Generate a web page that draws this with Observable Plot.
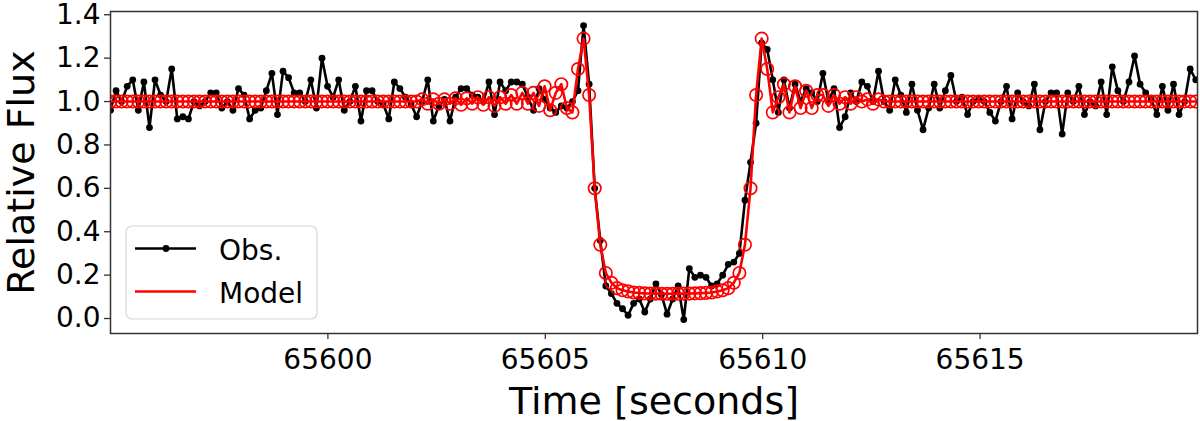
<!DOCTYPE html>
<html>
<head>
<meta charset="utf-8">
<script src="https://cdn.jsdelivr.net/npm/d3@7"></script>
<script src="https://cdn.jsdelivr.net/npm/@observablehq/plot@0.6"></script>
<style>
  html, body { margin: 0; padding: 0; background: #fff; }
  svg { display: block; }
</style>
</head>
<body>
<div id="chart"></div>
<script>
// ---- data ----
const startTime = 65595.0;   // time of first sample [s]
const cadence = 0.128;       // sampling interval [s]

const obsFlux = [
  0.96, 1.05, 1.00, 1.07, 1.10, 0.96, 1.09, 0.88, 1.10, 1.03,
  1.00, 1.15, 0.92, 0.93, 0.92, 1.00, 0.98, 1.00, 1.04, 1.04,
  0.97, 1.00, 0.96, 1.06, 1.03, 0.92, 0.96, 0.97, 1.05, 1.13,
  0.94, 1.14, 1.11, 1.04, 1.04, 1.00, 1.10, 0.97, 1.20, 1.07,
  1.02, 1.10, 0.96, 1.00, 1.07, 0.91, 1.05, 1.05, 1.00, 0.99,
  0.92, 1.09, 1.06, 1.02, 0.99, 0.93, 1.00, 1.10, 0.91, 0.98,
  1.01, 0.91, 1.02, 1.06, 1.06, 1.03, 1.02, 1.00,
  1.09, 0.94, 1.09, 1.05, 1.09, 1.09, 1.08, 1.02, 0.96, 1.06,
  1.01, 0.97, 0.95, 0.98, 0.97, 1.00, 1.05, 1.35, 1.08,
  0.60, 0.36, 0.15, 0.115, 0.07, 0.045, 0.015, 0.07, 0.09, 0.03,
  0.09, 0.16, 0.11, 0.02, 0.09, 0.15, -0.005, 0.23, 0.19, 0.20,
  0.19, 0.15, 0.16, 0.20, 0.25, 0.26, 0.30, 0.545, 0.72, 0.90,
  1.27, 1.24,
  1.10, 0.95, 1.10, 0.97, 1.08, 1.00, 1.06, 1.04, 1.00, 1.13,
  1.00, 1.06, 0.88, 0.93, 1.04, 1.00, 1.09, 1.07, 1.00, 1.14,
  1.00, 0.96, 1.10, 1.03, 0.95, 1.08, 0.96, 0.87, 0.97, 1.08,
  0.97, 1.05, 1.12, 1.00, 1.02, 0.94, 1.00, 1.01, 1.00,
  0.95, 0.91, 1.00, 1.07, 0.92, 1.04, 1.00, 0.98, 1.08, 0.87,
  1.00, 1.04, 1.04, 0.85, 1.04, 1.00, 1.07, 0.94, 1.00, 0.98,
  1.09, 0.94, 1.16, 1.05, 1.00, 1.09, 1.21, 1.08, 1.04, 1.01,
  0.94, 1.07, 0.96, 1.08, 0.94, 1.00, 1.15, 1.10
];

const modelFlux = [
  1, 1, 1, 1, 1, 1, 1, 1, 1, 1,
  1, 1, 1, 1, 1, 1, 1, 1, 1, 1,
  1, 1, 1, 1, 1, 1, 1, 1, 1, 1,
  1, 1, 1, 1, 1, 1, 1, 1, 1, 1,
  1, 1, 1, 1, 1, 1, 1, 1, 1, 1,
  1, 1, 1, 1, 1,
  1.00, 1.01, 0.99, 1.01, 0.99, 1.01, 0.99, 1.015, 0.985, 1.015,
  0.99, 1.02, 0.985, 1.02, 0.98, 1.02, 0.99, 1.03, 0.99, 1.04,
  0.99, 1.04, 0.98, 1.07, 0.96, 1.04, 1.08, 0.97, 0.95, 1.15,
  1.29, 1.03,
  0.60, 0.34, 0.21, 0.165, 0.14, 0.13, 0.125, 0.12, 0.118, 0.116,
  0.115, 0.115, 0.114, 0.114, 0.114, 0.114, 0.115, 0.115, 0.116, 0.117,
  0.118, 0.12, 0.125, 0.13, 0.14, 0.165, 0.21,
  0.34, 0.60, 1.03, 1.29, 1.15, 0.95, 1.02, 1.08, 0.95, 1.07,
  0.97, 1.05, 0.97, 1.03, 1.03, 0.98, 1.03, 0.99, 1.02, 0.99,
  1.02, 1.00, 1.01, 0.99, 1.01, 1.00, 1.00,
  1, 1, 1, 1, 1, 1, 1, 1, 1, 1,
  1, 1, 1, 1, 1, 1, 1, 1, 1, 1,
  1, 1, 1, 1, 1, 1, 1, 1, 1, 1,
  1, 1, 1, 1, 1, 1, 1, 1, 1, 1,
  1, 1, 1, 1, 1, 1, 1, 1, 1, 1,
  1, 1, 1, 1, 1
];

const xTicks = [65600, 65605, 65610, 65615];
const yTicks = [0.0, 0.2, 0.4, 0.6, 0.8, 1.0, 1.2, 1.4];
const seriesNames = ["Obs.", "Model"];
const xLabel = "Time [seconds]";
const yLabel = "Relative Flux";

// ---- build tables ----
const obs = obsFlux.map((f, i) => ({t: startTime + i * cadence, f}));
const model = modelFlux.map((f, i) => ({t: startTime + i * cadence, f}));

const FONT = "DejaVu Sans, sans-serif";
const AXIS = "#333";

const chart = Plot.plot({
  width: 1200,
  height: 421,
  marginLeft: 110,
  marginRight: 3,
  marginTop: 11,
  marginBottom: 88,
  style: {fontFamily: FONT, fontSize: "28px", color: "#000", background: "#fff", overflow: "visible"},
  x: {domain: [65595, 65620], label: null},
  y: {domain: [-0.069, 1.415], label: null},
  marks: [
    Plot.axisX({ticks: xTicks, tickFormat: d => String(d), tickSize: 6, tickPadding: 10,
      stroke: AXIS, strokeWidth: 1.3, fill: "#000", label: null}),
    Plot.axisY({ticks: yTicks, tickFormat: d3.format(".1f"), tickSize: 6, tickPadding: 4,
      stroke: AXIS, strokeWidth: 1.3, fill: "#000", label: null}),
    Plot.line(obs, {x: "t", y: "f", stroke: "#000", strokeWidth: 2.6, clip: true}),
    Plot.dot(obs, {x: "t", y: "f", fill: "#000", r: 3.4, clip: true}),
    Plot.line(model, {x: "t", y: "f", stroke: "#ff0000", strokeWidth: 2.6, clip: true}),
    Plot.dot(model, {x: "t", y: "f", stroke: "#ff0000", fill: "none", r: 6.2, strokeWidth: 1.7, clip: true}),
    Plot.frame({stroke: AXIS, strokeWidth: 1.5}),
    Plot.text([xLabel], {frameAnchor: "bottom", dy: 68, fontSize: 38, fill: "#000",
      textAnchor: "middle", lineAnchor: "middle"}),
    Plot.text([yLabel], {frameAnchor: "left", dx: -89, rotate: -90, fontSize: 38, fill: "#000",
      textAnchor: "middle", lineAnchor: "middle"})
  ]
});

// ---- legend inside the plot, lower left ----
const svg = d3.select(chart);
const lg = svg.append("g").attr("font-family", FONT).attr("font-size", 28).attr("text-anchor", "start");
lg.append("rect")
  .attr("x", 126).attr("y", 226).attr("width", 191).attr("height", 93)
  .attr("rx", 6).attr("fill", "#fff").attr("fill-opacity", 0.8)
  .attr("stroke", "#d6d6d6").attr("stroke-width", 1.2);
const rows = [
  {name: seriesNames[0], color: "#000", y: 248.5, dot: true},
  {name: seriesNames[1], color: "#ff0000", y: 291.5, dot: false}
];
rows.forEach(r => {
  lg.append("line").attr("x1", 135).attr("x2", 196).attr("y1", r.y).attr("y2", r.y)
    .attr("stroke", r.color).attr("stroke-width", 2.6);
  if (r.dot) lg.append("circle").attr("cx", 166).attr("cy", r.y).attr("r", 3.4).attr("fill", r.color);
  lg.append("text").attr("x", 219).attr("y", r.y + 11).attr("fill", "#000")
    .attr("text-anchor", "start").text(r.name);
});

document.getElementById("chart").appendChild(chart);
</script>
</body>
</html>
